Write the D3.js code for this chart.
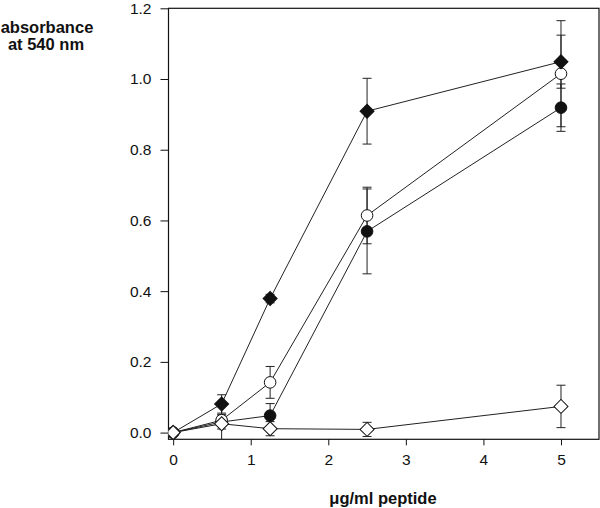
<!DOCTYPE html>
<html>
<head>
<meta charset="utf-8">
<script src="https://cdn.jsdelivr.net/npm/d3@7"></script>
<style>
  body { margin: 0; background: #fff; }
  svg text { font-family: "Liberation Sans", Arial, sans-serif; fill: #111; }
</style>
</head>
<body>
<svg id="chart" width="600" height="508"></svg>
<script>
// concentrations (ug/ml peptide)
const xVals = [0, 0.625, 1.25, 2.5, 5];

// absorbance values + error bars
const filledDiamond = [0, 0.081, 0.379, 0.909, 1.049];
const filledDiamondErr = [0, 0.026, 0.012, 0.093, 0.075];
const openCircle = [0, 0.035, 0.142, 0.614, 1.015];
const openCircleErr = [0, 0.015, 0.045, 0.08, 0.15];
const filledCircle = [0, 0.03, 0.048, 0.569, 0.919];
const filledCircleErr = [0, 0.02, 0.034, 0.12, 0.067];
const openDiamond = [0, 0.025, 0.011, 0.009, 0.074];
const openDiamondErr = [0, 0.05, 0.02, 0.02, 0.06];

const xTicks = [0, 1, 2, 3, 4, 5];
const yTicks = [0, 0.2, 0.4, 0.6, 0.8, 1.0, 1.2];

const plotLeft = 168.5, plotRight = 599, plotTop = 8.3, plotBottom = 439.3;

const svg = d3.select('#chart');

const x = d3.scaleLinear().domain([-0.06, 5.49]).range([plotLeft, plotRight]);
const y = d3.scaleLinear().domain([-0.019, 1.2]).range([plotBottom, plotTop]);

// axes
const xAxis = svg.append('g')
  .attr('transform', 'translate(0,' + plotBottom + ')')
  .call(d3.axisBottom(x).tickValues(xTicks).tickFormat(d3.format('d')).tickSize(6).tickPadding(9));
const yAxis = svg.append('g')
  .attr('transform', 'translate(' + plotLeft + ',0)')
  .call(d3.axisLeft(y).tickValues(yTicks).tickFormat(d3.format('.1f')).tickSize(8).tickPadding(9));

[xAxis, yAxis].forEach(g => {
  g.select('.domain').remove();
  g.selectAll('line').attr('stroke', '#111');
  g.selectAll('text').style('font-size', '15.5px').attr('fill', '#111');
});

// frame
svg.append('rect')
  .attr('x', plotLeft).attr('y', plotTop)
  .attr('width', plotRight - plotLeft).attr('height', plotBottom - plotTop)
  .attr('fill', 'none').attr('stroke', '#111').attr('stroke-width', 1.2);

svg.append('clipPath').attr('id', 'plotClip')
  .append('rect').attr('x', plotLeft).attr('y', plotTop)
  .attr('width', plotRight - plotLeft).attr('height', plotBottom - plotTop);

const series = [
  { vals: filledCircle, err: filledCircleErr, shape: 'circle', fill: '#111' },
  { vals: openCircle, err: openCircleErr, shape: 'circle', fill: '#fff' },
  { vals: filledDiamond, err: filledDiamondErr, shape: 'diamond', fill: '#111' },
  { vals: openDiamond, err: openDiamondErr, shape: 'diamond', fill: '#fff' }
];

const plot = svg.append('g').attr('clip-path', 'url(#plotClip)');
const line = d3.line().x(d => x(d[0])).y(d => y(d[1]));

// error bars first, then lines, then markers
series.forEach(s => {
  const pts = xVals.map((xv, i) => ({ x: xv, v: s.vals[i], e: s.err[i] })).filter(p => p.e > 0);
  const eb = plot.append('g').attr('stroke', '#222').attr('stroke-width', 1);
  pts.forEach(p => {
    eb.append('line').attr('x1', x(p.x)).attr('x2', x(p.x))
      .attr('y1', y(p.v - p.e)).attr('y2', y(p.v + p.e));
    [p.v - p.e, p.v + p.e].forEach(yy => {
      eb.append('line').attr('x1', x(p.x) - 4.5).attr('x2', x(p.x) + 4.5)
        .attr('y1', y(yy)).attr('y2', y(yy));
    });
  });
});

series.forEach(s => {
  plot.append('path')
    .datum(xVals.map((xv, i) => [xv, s.vals[i]]))
    .attr('fill', 'none').attr('stroke', '#222').attr('stroke-width', 1)
    .attr('d', line);
});

const diamond = d3.symbol().type(d3.symbolSquare).size(98);
series.forEach(s => {
  const g = plot.append('g');
  xVals.forEach((xv, i) => {
    if (s.shape === 'circle') {
      g.append('circle').attr('cx', x(xv)).attr('cy', y(s.vals[i])).attr('r', 5.8)
        .attr('fill', s.fill).attr('stroke', '#111').attr('stroke-width', 1);
    } else {
      g.append('path').attr('d', diamond())
        .attr('transform', 'translate(' + x(xv) + ',' + y(s.vals[i]) + ') rotate(45)')
        .attr('fill', s.fill).attr('stroke', '#111').attr('stroke-width', 1);
    }
  });
});

// axis titles
const yTitle = svg.append('text').attr('text-anchor', 'middle')
  .style('font-size', '16.5px').style('font-weight', 'bold');
yTitle.append('tspan').attr('x', 47).attr('y', 33).text('absorbance');
yTitle.append('tspan').attr('x', 46).attr('y', 50).text('at 540 nm');

svg.append('text').attr('x', 383).attr('y', 504).attr('text-anchor', 'middle')
  .style('font-size', '16.5px').style('font-weight', 'bold')
  .text('μg/ml peptide');
</script>
</body>
</html>
